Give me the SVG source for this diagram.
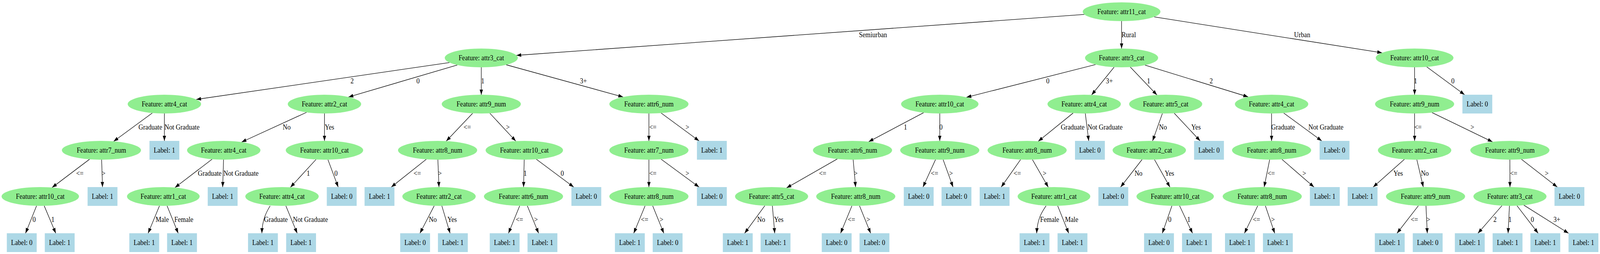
<svg xmlns="http://www.w3.org/2000/svg" width="4448" height="649" viewBox="0 0 4448 649">
<style>
.n ellipse{fill:#90ee90;stroke:none}
.b rect{fill:#add8e6;stroke:none}
text{font-family:"Liberation Serif","Times New Roman",serif;font-size:18px;fill:#000;text-anchor:middle}
#edges path{fill:none;stroke:#000;stroke-width:1.33;marker-end:url(#ah)}
</style>
<defs>
<marker id="ah" markerUnits="userSpaceOnUse" markerWidth="14" markerHeight="10" viewBox="0 0 14 10" refX="13.3" refY="5" orient="auto">
<path d="M0,0.3 L13.3,5 L0,9.7 z" fill="#000"/>
</marker>
</defs>
<rect width="4448" height="649" fill="#fff"/>
<g id="diagram" transform="scale(0.920863,1)">
<g id="edges">
<path d="M3014.5,36.9 L1435.8,141.5"/>
<path d="M3118,54 L3118,124"/>
<path d="M3208.5,43.1 L3842.1,134.9"/>
<path d="M1249.4,159.9 L545.6,254.1"/>
<path d="M1271.2,166.1 L968.9,247.9"/>
<path d="M1338,172 L1338,242"/>
<path d="M1407.3,165.5 L1732.2,247.8"/>
<path d="M423.4,288.7 L315.9,361.2"/>
<path d="M457,290 L457,360"/>
<path d="M249,406.9 L144.9,479.1"/>
<path d="M282.5,408 L285,478"/>
<path d="M101.6,525.9 L71,596"/>
<path d="M122.9,525.9 L155,596"/>
<path d="M852.3,287 L671.7,363"/>
<path d="M902,290 L902,360"/>
<path d="M589.6,406.8 L486.4,479.3"/>
<path d="M621.5,408 L619,478"/>
<path d="M443.3,525.9 L411.8,596"/>
<path d="M464.5,525.9 L495.4,596"/>
<path d="M878.6,407.4 L807.4,478.6"/>
<path d="M911.7,407.9 L940.2,478"/>
<path d="M751,526 C741,541 729,561 728,596"/>
<path d="M794.7,525.9 L826.2,596"/>
<path d="M1313.9,289.4 L1240.6,360.6"/>
<path d="M1361.8,289.4 L1433.9,360.6"/>
<path d="M1185,407 L1087.8,478"/>
<path d="M1217.3,408 L1220.3,478"/>
<path d="M1207.1,525.8 L1167.5,596"/>
<path d="M1228.3,525.9 L1251.2,596"/>
<path d="M1457.3,408 L1455.5,478"/>
<path d="M1490.9,406.8 L1594.9,478"/>
<path d="M1444.7,525.9 L1413.6,596"/>
<path d="M1466,525.9 L1497.3,596"/>
<path d="M1804,290 L1804,360"/>
<path d="M1837.9,288.8 L1943.4,360"/>
<path d="M1804,408 L1804,478"/>
<path d="M1837.9,406.8 L1943.4,478"/>
<path d="M1793.3,525.9 L1761.8,596"/>
<path d="M1814.5,525.9 L1845.4,596"/>
<path d="M3045.7,164.9 L2686.9,248.6"/>
<path d="M3097.3,171.5 L3034.7,242.5"/>
<path d="M3142.2,171.3 L3216.4,242.7"/>
<path d="M3183.2,166.4 L3469.8,247.5"/>
<path d="M2567.7,287.8 L2415,362.1"/>
<path d="M2612.6,290 L2612.5,360"/>
<path d="M2327.7,406.2 L2186.7,480.1"/>
<path d="M2371.8,408 L2378.6,478"/>
<path d="M2126.2,525.6 L2070.1,596"/>
<path d="M2147.2,526 L2153.8,596"/>
<path d="M2368.3,525.9 L2336.8,596"/>
<path d="M2389.5,525.9 L2420.4,596"/>
<path d="M2600.7,407.9 L2565.9,478"/>
<path d="M2621.9,407.9 L2649.5,478"/>
<path d="M2983.2,288.9 L2886.4,361"/>
<path d="M3017.1,289.8 L3026.7,360"/>
<path d="M2837.3,407.7 L2783.4,478"/>
<path d="M2870.2,407.8 L2914.2,478.3"/>
<path d="M2908,526 C2897,541 2884,558 2882,596"/>
<path d="M2940.4,525.9 L2971,596"/>
<path d="M3231.4,289.9 L3204.2,360.1"/>
<path d="M3264.4,289.3 L3336.5,360"/>
<path d="M3175,407.5 L3115.3,478"/>
<path d="M3209.5,407.8 L3252.5,478.2"/>
<path d="M3257.9,525.9 L3231.2,596"/>
<path d="M3279.2,525.8 L3315.2,596"/>
<path d="M3535,290 L3535,360"/>
<path d="M3568.6,288.7 L3674.4,360"/>
<path d="M3529.7,407.9 L3514.3,478"/>
<path d="M3564,407.2 L3652.9,478"/>
<path d="M3496.5,525.8 L3459.6,596"/>
<path d="M3517.8,526 L3543.7,596"/>
<path d="M3932.6,172 L3932.6,242"/>
<path d="M3966.3,170.8 L4071.5,242"/>
<path d="M3932.6,290 L3932.6,360"/>
<path d="M3981,287.6 L4149.1,362.4"/>
<path d="M3904.3,407.1 L3817.4,478"/>
<path d="M3938.8,407.9 L3956.8,478"/>
<path d="M3943.1,525.6 L3883.7,596"/>
<path d="M3964.2,526 L3967.8,596"/>
<path d="M4197.5,408 L4197.7,478"/>
<path d="M4229.7,407 L4329.3,478"/>
<path d="M4175.5,525.4 L4108.7,596"/>
<path d="M4196.3,526 L4192.4,596"/>
<path d="M4217.3,525.6 L4276,596"/>
<path d="M4236.2,524.2 L4360.5,596"/>
<g id="edge-labels">
<text x="2427" y="95">Semiurban</text>
<text x="3138" y="95">Rural</text>
<text x="3620" y="95">Urban</text>
<text x="979" y="213">2</text>
<text x="1162" y="213">0</text>
<text x="1342" y="213">1</text>
<text x="1622" y="213">3+</text>
<text x="2913" y="213">0</text>
<text x="3084" y="213">3+</text>
<text x="3193" y="213">1</text>
<text x="3367" y="213">2</text>
<text x="3935" y="213">1</text>
<text x="4039" y="213">0</text>
<text x="418" y="331">Graduate</text>
<text x="506" y="331">Not Graduate</text>
<text x="797" y="331">No</text>
<text x="916" y="331">Yes</text>
<text x="1299" y="331">&lt;=</text>
<text x="1412" y="331">&gt;</text>
<text x="1815" y="331">&lt;=</text>
<text x="1911" y="331">&gt;</text>
<text x="2517" y="331">1</text>
<text x="2616" y="331">0</text>
<text x="2982" y="331">Graduate</text>
<text x="3072" y="331">Not Graduate</text>
<text x="3233" y="331">No</text>
<text x="3325" y="331">Yes</text>
<text x="3567" y="331">Graduate</text>
<text x="3686" y="331">Not Graduate</text>
<text x="3942" y="331">&lt;=</text>
<text x="4093" y="331">&gt;</text>
<text x="222" y="449">&lt;=</text>
<text x="288" y="449">&gt;</text>
<text x="583" y="449">Graduate</text>
<text x="670" y="449">Not Graduate</text>
<text x="857" y="449">1</text>
<text x="934" y="449">0</text>
<text x="1160" y="449">&lt;=</text>
<text x="1223" y="449">&gt;</text>
<text x="1460" y="449">1</text>
<text x="1563" y="449">0</text>
<text x="1815" y="449">&lt;=</text>
<text x="1911" y="449">&gt;</text>
<text x="2287" y="449">&lt;=</text>
<text x="2379" y="449">&gt;</text>
<text x="2598" y="449">&lt;=</text>
<text x="2644" y="449">&gt;</text>
<text x="2828" y="449">&lt;=</text>
<text x="2904" y="449">&gt;</text>
<text x="3165" y="449">No</text>
<text x="3251" y="449">Yes</text>
<text x="3534" y="449">&lt;=</text>
<text x="3626" y="449">&gt;</text>
<text x="3887" y="449">Yes</text>
<text x="3961" y="449">No</text>
<text x="4208" y="449">&lt;=</text>
<text x="4300" y="449">&gt;</text>
<text x="95" y="567">0</text>
<text x="147" y="567">1</text>
<text x="451" y="567">Male</text>
<text x="511" y="567">Female</text>
<text x="767" y="567">Graduate</text>
<text x="863" y="567">Not Graduate</text>
<text x="1203" y="567">No</text>
<text x="1257" y="567">Yes</text>
<text x="1444" y="567">&lt;=</text>
<text x="1490" y="567">&gt;</text>
<text x="1792" y="567">&lt;=</text>
<text x="1839" y="567">&gt;</text>
<text x="2116" y="567">No</text>
<text x="2165" y="567">Yes</text>
<text x="2367" y="567">&lt;=</text>
<text x="2414" y="567">&gt;</text>
<text x="2918" y="567">Female</text>
<text x="2979" y="567">Male</text>
<text x="3252" y="567">0</text>
<text x="3305" y="567">1</text>
<text x="3493" y="567">&lt;=</text>
<text x="3539" y="567">&gt;</text>
<text x="3932" y="567">&lt;=</text>
<text x="3971" y="567">&gt;</text>
<text x="4156" y="567">2</text>
<text x="4198" y="567">1</text>
<text x="4260" y="567">0</text>
<text x="4328" y="567">3+</text>
</g>
</g>
<g id="n0" class="n"><ellipse cx="3118" cy="30" rx="108" ry="24"/><text x="3118" y="36">Feature: attr11_cat</text></g>
<g id="nA" class="n"><ellipse cx="1338" cy="148" rx="101.6" ry="24"/><text x="1338" y="154">Feature: attr3_cat</text></g>
<g id="nA1" class="n"><ellipse cx="457" cy="266" rx="102" ry="24"/><text x="457" y="272">Feature: attr4_cat</text></g>
<g id="nA1a" class="n"><ellipse cx="282" cy="384" rx="110" ry="24"/><text x="282" y="390">Feature: attr7_num</text></g>
<g id="nA1a1" class="n"><ellipse cx="112" cy="502" rx="107.6" ry="24"/><text x="112" y="508">Feature: attr10_cat</text></g>
<g id="nA2" class="n"><ellipse cx="902" cy="266" rx="102" ry="24"/><text x="902" y="272">Feature: attr2_cat</text></g>
<g id="nA2a" class="n"><ellipse cx="622" cy="384" rx="102" ry="24"/><text x="622" y="390">Feature: attr4_cat</text></g>
<g id="nA2a1" class="n"><ellipse cx="454" cy="502" rx="101" ry="24"/><text x="454" y="508">Feature: attr1_cat</text></g>
<g id="nA2b" class="n"><ellipse cx="902" cy="384" rx="107.6" ry="24"/><text x="902" y="390">Feature: attr10_cat</text></g>
<g id="nA2b1" class="n"><ellipse cx="784" cy="502" rx="102" ry="24"/><text x="784" y="508">Feature: attr4_cat</text></g>
<g id="nA3" class="n"><ellipse cx="1338" cy="266" rx="110" ry="24"/><text x="1338" y="272">Feature: attr9_num</text></g>
<g id="nA3a" class="n"><ellipse cx="1216.5" cy="384" rx="110" ry="24"/><text x="1216.5" y="390">Feature: attr8_num</text></g>
<g id="nA3a1" class="n"><ellipse cx="1220.5" cy="502" rx="102" ry="24"/><text x="1220.5" y="508">Feature: attr2_cat</text></g>
<g id="nA3b" class="n"><ellipse cx="1457.6" cy="384" rx="107.6" ry="24"/><text x="1457.6" y="390">Feature: attr10_cat</text></g>
<g id="nA3b1" class="n"><ellipse cx="1455.3" cy="502" rx="110" ry="24"/><text x="1455.3" y="508">Feature: attr6_num</text></g>
<g id="nA4" class="n"><ellipse cx="1804" cy="266" rx="110" ry="24"/><text x="1804" y="272">Feature: attr6_num</text></g>
<g id="nA4a" class="n"><ellipse cx="1804" cy="384" rx="110" ry="24"/><text x="1804" y="390">Feature: attr7_num</text></g>
<g id="nA4a1" class="n"><ellipse cx="1804" cy="502" rx="110" ry="24"/><text x="1804" y="508">Feature: attr8_num</text></g>
<g id="nB" class="n"><ellipse cx="3118" cy="148" rx="101.6" ry="24"/><text x="3118" y="154">Feature: attr3_cat</text></g>
<g id="nB1" class="n"><ellipse cx="2612.6" cy="266" rx="107.6" ry="24"/><text x="2612.6" y="272">Feature: attr10_cat</text></g>
<g id="nB1a" class="n"><ellipse cx="2370" cy="384" rx="110" ry="24"/><text x="2370" y="390">Feature: attr6_num</text></g>
<g id="nB1a1" class="n"><ellipse cx="2145" cy="502" rx="101.6" ry="24"/><text x="2145" y="508">Feature: attr5_cat</text></g>
<g id="nB1a2" class="n"><ellipse cx="2379" cy="502" rx="110" ry="24"/><text x="2379" y="508">Feature: attr8_num</text></g>
<g id="nB1b" class="n"><ellipse cx="2612.5" cy="384" rx="110" ry="24"/><text x="2612.5" y="390">Feature: attr9_num</text></g>
<g id="nB2" class="n"><ellipse cx="3014" cy="266" rx="102" ry="24"/><text x="3014" y="272">Feature: attr4_cat</text></g>
<g id="nB2a" class="n"><ellipse cx="2855.4" cy="384" rx="110" ry="24"/><text x="2855.4" y="390">Feature: attr8_num</text></g>
<g id="nB2a1" class="n"><ellipse cx="2930" cy="502" rx="101" ry="24"/><text x="2930" y="508">Feature: attr1_cat</text></g>
<g id="nB3" class="n"><ellipse cx="3240.6" cy="266" rx="101.6" ry="24"/><text x="3240.6" y="272">Feature: attr5_cat</text></g>
<g id="nB3a" class="n"><ellipse cx="3195" cy="384" rx="102" ry="24"/><text x="3195" y="390">Feature: attr2_cat</text></g>
<g id="nB3a1" class="n"><ellipse cx="3267" cy="502" rx="107.6" ry="24"/><text x="3267" y="508">Feature: attr10_cat</text></g>
<g id="nB4" class="n"><ellipse cx="3535" cy="266" rx="102" ry="24"/><text x="3535" y="272">Feature: attr4_cat</text></g>
<g id="nB4a" class="n"><ellipse cx="3535" cy="384" rx="110" ry="24"/><text x="3535" y="390">Feature: attr8_num</text></g>
<g id="nB4a1" class="n"><ellipse cx="3509" cy="502" rx="110" ry="24"/><text x="3509" y="508">Feature: attr8_num</text></g>
<g id="nC" class="n"><ellipse cx="3932.6" cy="148" rx="108" ry="24"/><text x="3932.6" y="154">Feature: attr10_cat</text></g>
<g id="nC1" class="n"><ellipse cx="3932.6" cy="266" rx="110" ry="24"/><text x="3932.6" y="272">Feature: attr9_num</text></g>
<g id="nC1a" class="n"><ellipse cx="3932.6" cy="384" rx="102" ry="24"/><text x="3932.6" y="390">Feature: attr2_cat</text></g>
<g id="nC1a1" class="n"><ellipse cx="3963" cy="502" rx="110" ry="24"/><text x="3963" y="508">Feature: attr9_num</text></g>
<g id="nC1b" class="n"><ellipse cx="4197.5" cy="384" rx="110" ry="24"/><text x="4197.5" y="390">Feature: attr9_num</text></g>
<g id="nC1b1" class="n"><ellipse cx="4197.7" cy="502" rx="101.6" ry="24"/><text x="4197.7" y="508">Feature: attr3_cat</text></g>
<g id="L1" class="b"><rect x="19" y="596" width="83" height="48"/><text x="60.5" y="626">Label: 0</text></g>
<g id="L2" class="b"><rect x="124.5" y="596" width="83" height="48"/><text x="166" y="626">Label: 1</text></g>
<g id="L3" class="b"><rect x="243.5" y="478" width="83" height="48"/><text x="285" y="508">Label: 1</text></g>
<g id="L4" class="b"><rect x="415.5" y="360" width="83" height="48"/><text x="457" y="390">Label: 1</text></g>
<g id="L5" class="b"><rect x="359.5" y="596" width="83" height="48"/><text x="401" y="626">Label: 1</text></g>
<g id="L6" class="b"><rect x="464.5" y="596" width="83" height="48"/><text x="506" y="626">Label: 1</text></g>
<g id="L7" class="b"><rect x="577.5" y="478" width="83" height="48"/><text x="619" y="508">Label: 1</text></g>
<g id="L8" class="b"><rect x="689.5" y="596" width="83" height="48"/><text x="731" y="626">Label: 1</text></g>
<g id="L9" class="b"><rect x="795.5" y="596" width="83" height="48"/><text x="837" y="626">Label: 1</text></g>
<g id="L10" class="b"><rect x="908.5" y="478" width="83" height="48"/><text x="950" y="508">Label: 0</text></g>
<g id="L11" class="b"><rect x="1013.5" y="478" width="83" height="48"/><text x="1055" y="508">Label: 1</text></g>
<g id="L12" class="b"><rect x="1112.5" y="596" width="83" height="48"/><text x="1154" y="626">Label: 0</text></g>
<g id="L13" class="b"><rect x="1217.5" y="596" width="83" height="48"/><text x="1259" y="626">Label: 1</text></g>
<g id="L14" class="b"><rect x="1361.5" y="596" width="83" height="48"/><text x="1403" y="626">Label: 1</text></g>
<g id="L15" class="b"><rect x="1466.5" y="596" width="83" height="48"/><text x="1508" y="626">Label: 1</text></g>
<g id="L16" class="b"><rect x="1588.5" y="478" width="83" height="48"/><text x="1630" y="508">Label: 0</text></g>
<g id="L17" class="b"><rect x="1709.5" y="596" width="83" height="48"/><text x="1751" y="626">Label: 1</text></g>
<g id="L18" class="b"><rect x="1814.5" y="596" width="83" height="48"/><text x="1856" y="626">Label: 0</text></g>
<g id="L19" class="b"><rect x="1937.5" y="478" width="83" height="48"/><text x="1979" y="508">Label: 0</text></g>
<g id="L20" class="b"><rect x="1937.5" y="360" width="83" height="48"/><text x="1979" y="390">Label: 1</text></g>
<g id="L21" class="b"><rect x="2009.5" y="596" width="83" height="48"/><text x="2051" y="626">Label: 1</text></g>
<g id="L22" class="b"><rect x="2114.5" y="596" width="83" height="48"/><text x="2156" y="626">Label: 1</text></g>
<g id="L23" class="b"><rect x="2284.5" y="596" width="83" height="48"/><text x="2326" y="626">Label: 0</text></g>
<g id="L24" class="b"><rect x="2389.5" y="596" width="83" height="48"/><text x="2431" y="626">Label: 0</text></g>
<g id="L25" class="b"><rect x="2512.5" y="478" width="83" height="48"/><text x="2554" y="508">Label: 0</text></g>
<g id="L26" class="b"><rect x="2617.5" y="478" width="83" height="48"/><text x="2659" y="508">Label: 0</text></g>
<g id="L27" class="b"><rect x="2723.5" y="478" width="83" height="48"/><text x="2765" y="508">Label: 1</text></g>
<g id="L28" class="b"><rect x="2834.5" y="596" width="83" height="48"/><text x="2876" y="626">Label: 1</text></g>
<g id="L29" class="b"><rect x="2940" y="596" width="83" height="48"/><text x="2981.5" y="626">Label: 1</text></g>
<g id="L30" class="b"><rect x="2988.5" y="360" width="83" height="48"/><text x="3030" y="390">Label: 0</text></g>
<g id="L31" class="b"><rect x="3053.5" y="478" width="83" height="48"/><text x="3095" y="508">Label: 0</text></g>
<g id="L32" class="b"><rect x="3180.5" y="596" width="83" height="48"/><text x="3222" y="626">Label: 0</text></g>
<g id="L33" class="b"><rect x="3286" y="596" width="83" height="48"/><text x="3327.5" y="626">Label: 1</text></g>
<g id="L34" class="b"><rect x="3319.5" y="360" width="83" height="48"/><text x="3361" y="390">Label: 0</text></g>
<g id="L35" class="b"><rect x="3405.5" y="596" width="83" height="48"/><text x="3447" y="626">Label: 1</text></g>
<g id="L36" class="b"><rect x="3511" y="596" width="83" height="48"/><text x="3552.5" y="626">Label: 1</text></g>
<g id="L37" class="b"><rect x="3641.5" y="478" width="83" height="48"/><text x="3683" y="508">Label: 1</text></g>
<g id="L38" class="b"><rect x="3668.5" y="360" width="83" height="48"/><text x="3710" y="390">Label: 0</text></g>
<g id="L39" class="b"><rect x="4065.5" y="242" width="83" height="48"/><text x="4107" y="272">Label: 0</text></g>
<g id="L40" class="b"><rect x="3746.5" y="478" width="83" height="48"/><text x="3788" y="508">Label: 1</text></g>
<g id="L41" class="b"><rect x="3822" y="596" width="83" height="48"/><text x="3863.5" y="626">Label: 1</text></g>
<g id="L42" class="b"><rect x="3927.5" y="596" width="83" height="48"/><text x="3969" y="626">Label: 0</text></g>
<g id="L43" class="b"><rect x="4044.5" y="596" width="83" height="48"/><text x="4086" y="626">Label: 1</text></g>
<g id="L44" class="b"><rect x="4149.5" y="596" width="83" height="48"/><text x="4191" y="626">Label: 1</text></g>
<g id="L45" class="b"><rect x="4254.5" y="596" width="83" height="48"/><text x="4296" y="626">Label: 1</text></g>
<g id="L46" class="b"><rect x="4360.5" y="596" width="83" height="48"/><text x="4402" y="626">Label: 1</text></g>
<g id="L47" class="b"><rect x="4321.5" y="478" width="83" height="48"/><text x="4363" y="508">Label: 0</text></g>
</g>
</svg>
